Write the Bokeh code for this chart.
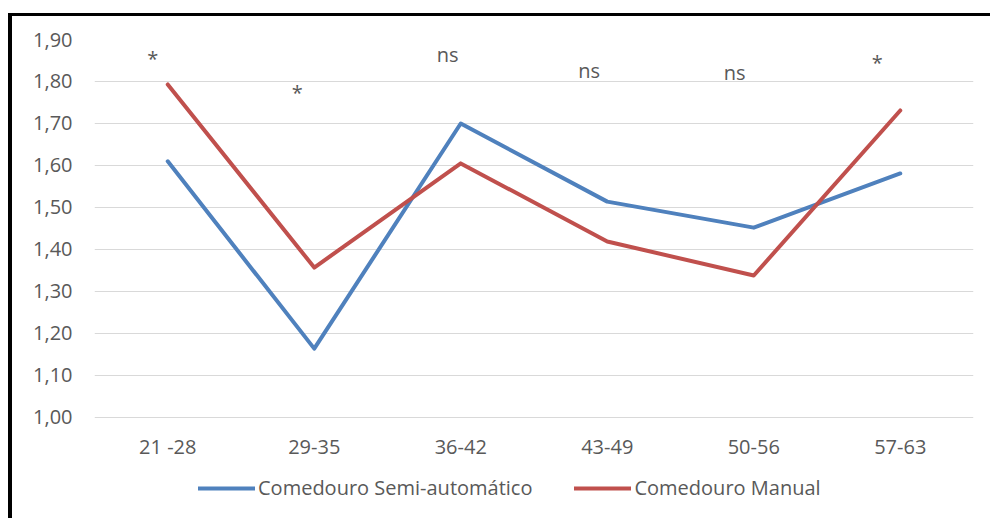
from bokeh.plotting import figure
from bokeh.models import FactorRange, Range1d, FixedTicker, Legend, LegendItem
from bokeh.embed import file_html
from bokeh.resources import INLINE
from bokeh.core.properties import value

categories = ["21 -28", "29-35", "36-42", "43-49", "50-56", "57-63"]
semi_auto = [1.61, 1.164, 1.70, 1.514, 1.452, 1.581]
manual = [1.793, 1.357, 1.605, 1.419, 1.338, 1.731]
sig_labels = ["*", "*", "ns", "ns", "ns", "*"]
sig_y = [1.855, 1.774, 1.864, 1.826, 1.821, 1.845]
sig_dx = [-15, -17, -13, -18, -19, -23]
y_ticks = [1.0, 1.1, 1.2, 1.3, 1.4, 1.5, 1.6, 1.7, 1.8, 1.9]
y_tick_labels = ["1,00", "1,10", "1,20", "1,30", "1,40", "1,50", "1,60", "1,70", "1,80", "1,90"]
series_names = ["Comedouro Semi-automático", "Comedouro Manual"]

FONT = "Open Sans"
TXT = "#595959"

# frame extends below the 1,00 line to host the legend; x axis drawn at y = 1,00
p = figure(x_range=FactorRange(factors=categories), y_range=Range1d(0.7571, 1.9),
           frame_width=879, frame_height=480,
           min_border_left=82, min_border_top=23, min_border_right=17, min_border_bottom=0,
           output_backend="svg", toolbar_location=None,
           margin=(13, 0, 0, 8),
           styles={"border-top": "3px solid black", "border-left": "4px solid black"})
p.outline_line_color = None
p.background_fill_color = "white"
p.border_fill_color = "white"

p.yaxis.ticker = FixedTicker(ticks=y_ticks)
p.yaxis.major_label_overrides = {t: l for t, l in zip(y_ticks, y_tick_labels)}
for ax in (p.xaxis, p.yaxis):
    ax.axis_line_color = None
    ax.major_tick_line_color = None
    ax.minor_tick_line_color = None
    ax.major_tick_out = 0
    ax.major_tick_in = 0
    ax.major_label_text_font = FONT
    ax.major_label_text_font_size = "20px"
    ax.major_label_text_color = TXT
p.yaxis.major_label_standoff = 22
p.xaxis.major_label_standoff = 16
p.xaxis.fixed_location = 1.0

p.xgrid.grid_line_color = None
p.ygrid.grid_line_color = "#d9d9d9"
p.ygrid.grid_line_width = 1
p.ygrid.ticker = FixedTicker(ticks=y_ticks)

r1 = p.line(x=categories, y=semi_auto, line_color="#4f81bd", line_width=4,
            line_cap="round", line_join="round")
r2 = p.line(x=categories, y=manual, line_color="#c0504d", line_width=4,
            line_cap="round", line_join="round")

p.text(x=categories, y=sig_y, text=sig_labels, x_offset=sig_dx,
       text_font=value(FONT), text_font_size="20px", text_color=TXT,
       text_align="center", text_baseline="middle")

lg = Legend(items=[LegendItem(label=series_names[0], renderers=[r1]),
                   LegendItem(label=series_names[1], renderers=[r2])],
            location=(104, 18), orientation="horizontal", padding=0, margin=0,
            border_line_color=None, background_fill_alpha=0,
            glyph_width=57, glyph_height=20, label_height=20, label_standoff=3,
            spacing=42,
            label_text_font=FONT, label_text_font_size="20px",
            label_text_color=TXT)
p.add_layout(lg, "center")

open("out.html", "w").write(file_html(p, INLINE))
